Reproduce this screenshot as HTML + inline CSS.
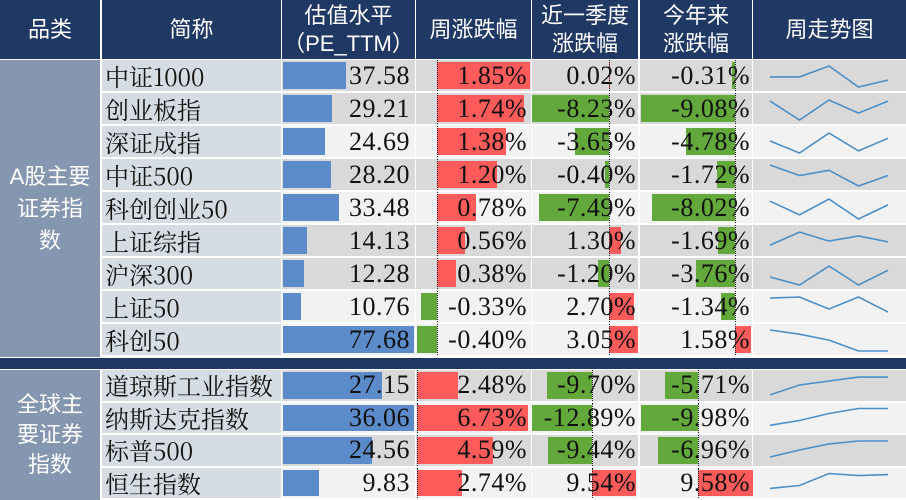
<!DOCTYPE html>
<html><head><meta charset="utf-8"><style>
body{margin:0;width:906px;height:500px;overflow:hidden;background:#fff;font-family:"Liberation Serif","Noto Serif CJK SC",serif;}
#t{position:relative;width:906px;height:500px;}
.c{position:absolute;box-sizing:border-box;}
.h{background:#1f3864;color:#fff;font-family:"Liberation Sans","Noto Sans CJK SC",sans-serif;font-size:22px;display:flex;align-items:center;justify-content:center;text-align:center;line-height:28px;}
.txt{position:absolute;font-size:24px;color:#111;white-space:nowrap;line-height:1;}
.num{font-family:"Liberation Serif",serif;font-size:26px;letter-spacing:0.5px;}
.bar{position:absolute;}
.axis{position:absolute;border-left:1px dotted #222;}
</style></head><body>
<div id="t">
<svg id="sv" width="906" height="500" style="position:absolute;left:0;top:0;z-index:5;pointer-events:none"></svg>
</div>
<script>
const names=["中证1000","创业板指","深证成指","中证500","科创创业50","上证综指","沪深300","上证50","科创50","道琼斯工业指数","纳斯达克指数","标普500","恒生指数"];
const pe=[37.58,29.21,24.69,28.20,33.48,14.13,12.28,10.76,77.68,27.15,36.06,24.56,9.83];
const week=[1.85,1.74,1.38,1.20,0.78,0.56,0.38,-0.33,-0.40,2.48,6.73,4.59,2.74];
const quarter=[0.02,-8.23,-3.65,-0.40,-7.49,1.30,-1.20,2.70,3.05,-9.70,-12.89,-9.44,9.54];
const ytd=[-0.31,-9.08,-4.78,-1.72,-8.02,-1.69,-3.76,-1.34,1.58,-5.71,-9.98,-6.96,9.58];
const spark=[[0.48,0.48,1,0,0.33],[0.9,0,0.95,0.33,0.9],[0.57,0,0.95,0.1,0.7],[1,0.5,0.75,0,0.5],[0.85,0.2,0.95,0,0.67],[0.33,0.95,0.52,0.76,0.48],[0.38,0,0.9,0,0.7],[0.95,1,0.43,1,0.28],[1,0.8,0.52,0,0],[0.1,0.57,0.76,0.95,0.95],[0.2,0.43,0.76,1,1],[0.24,0.57,0.86,1,1],[0.29,0.43,1,0.9,0.95]];
const shade=[1,1,0,1,0,1,1,0,0,1,0,1,0];

const T=document.getElementById('t');
function div(cls,x,y,w,h,bg){const d=document.createElement('div');d.className=cls;d.style.left=x+'px';d.style.top=y+'px';d.style.width=w+'px';d.style.height=h+'px';if(bg)d.style.background=bg;T.appendChild(d);return d;}
const cols=[[0,100],[102,179],[282,133],[416,115],[532,106],[640,112],[753,153]];
const heads=["品类","简称","估值水平<br>（PE_TTM）","周涨跌幅","近一季度<br>涨跌幅","今年来<br>涨跌幅","周走势图"];
heads.forEach((h,i)=>{const d=div('c h',cols[i][0],0,cols[i][1],59);d.innerHTML=h;

});
function rowTop(i){return i<9?60+i*33:370+(i-9)*32.5;}
function rowH(i){return i<9?31:30.5;}
const g1=div('c h',0,60,100,297,'#8496b0');g1.innerHTML='A股主要<br>证券指<br>数';g1.style.lineHeight='32px';


const g2=div('c h',0,370,100,130,'#8496b0');g2.innerHTML='全球主<br>要证券<br>指数';g2.style.lineHeight='30px';


const sep=div('c',0,358,906,11,'#1f3864');


const wk=[[437,50],[417,16.5]], qt=[[609,9.4],[592,4.65]], yt=[[735,10.35],[698,5.7]];
const peMax=[77.68,36.06];
function fmt(v){return v.toFixed(2);}
function txt(s,right,y,h,name){const d=document.createElement('div');d.className='txt num';d.textContent=s;d.style.right=(906-right)+'px';d.style.top=(y+h/2-13)+'px';d.style.zIndex=3;T.appendChild(d);

}
function signedBar(v,sc,y,h,name){const px=v*sc[1];const x=px>=0?sc[0]:sc[0]+px;const b=div('bar',x,y+2,Math.abs(px),h-4,v>=0?'#ff5b5b':'#62a83b');


const a=div('axis',sc[0],y,0,h);a.style.zIndex=4;

}
const sv=document.getElementById('sv');
for(let i=0;i<names.length;i++){
 const y=rowTop(i),h=rowH(i),gi=i<9?0:1;
 const bg=shade[i]?'#d9d9d9':'#f2f2f2';
 const nb=div('c',102,y,179,h,'#d6dce4');
 
 
 for(let c=2;c<7;c++){const cc=div('c',cols[c][0],y,cols[c][1],h,bg);
 
 }
 const nt=document.createElement('div');nt.className='txt';nt.textContent=names[i];nt.style.left='105px';nt.style.top=(y+h/2-12)+'px';nt.style.fontFamily='"Noto Serif CJK SC","Liberation Serif",serif';T.appendChild(nt);
 
 
 const pb=div('bar',283,y+2,pe[i]/peMax[gi]*131,h-4,'#5b8bc9');
 
 
 txt(fmt(pe[i]),410,y,h,'pe-value');
 signedBar(week[i],wk[gi],y,h,'week-bar');txt(fmt(week[i])+'%',527,y,h,'week-value');
 signedBar(quarter[i],qt[gi],y,h,'quarter-bar');txt(fmt(quarter[i])+'%',636,y,h,'quarter-value');
 signedBar(ytd[i],yt[gi],y,h,'ytd-bar');txt(fmt(ytd[i])+'%',750,y,h,'ytd-value');
 const pts=spark[i].map((v,k)=>(770+k*29.5)+','+(y+6+(1-v)*21).toFixed(1)).join(' ');
 const pl=document.createElementNS('http://www.w3.org/2000/svg','polyline');
 pl.setAttribute('points',pts);pl.setAttribute('fill','none');pl.setAttribute('stroke','#4a8fc7');pl.setAttribute('stroke-width','1.6');
 
 
 sv.appendChild(pl);
}
</script>
</body></html>
